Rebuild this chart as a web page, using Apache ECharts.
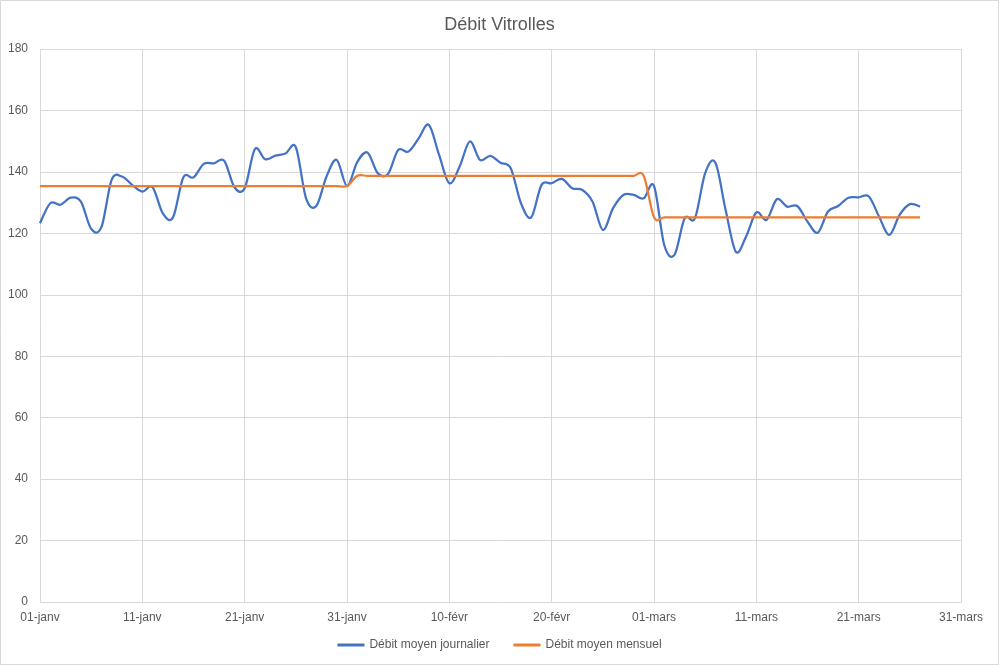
<!DOCTYPE html>
<html>
<head>
<meta charset="utf-8">
<title>Débit Vitrolles</title>
<script src="https://cdn.jsdelivr.net/npm/echarts@6/dist/echarts.min.js"></script>
<style>
  html, body { margin: 0; padding: 0; background: #fff; }
  #chart { width: 999px; height: 665px; }
</style>
</head>
<body>
<div id="chart"></div>
<script>
// mois (année bissextile), pour les libellés de l'axe
var moisNoms = ['janv', 'févr', 'mars'];
var moisJours = [31, 29, 31];
var tickLabels = ['01-janv', '11-janv', '21-janv', '31-janv', '10-févr', '20-févr',
                  '01-mars', '11-mars', '21-mars', '31-mars'];

// débit moyen journalier, du 01-janv au 27-mars
var debitJournalier = [
  123.3, 129.8, 129.3, 131.6, 130.3, 121.5, 122.0, 137.4, 138.5, 135.8,
  133.6, 135.0, 126.5, 125.2, 138.2, 138.2, 142.6, 142.8, 143.6, 135.0,
  134.7, 147.4, 144.1, 145.3, 146.0, 148.0, 131.4, 128.9, 138.5, 143.9,
  135.4, 143.2, 146.3, 139.6, 139.3, 147.1, 146.6, 150.9, 155.3, 145.5,
  136.3, 141.7, 149.9, 143.9, 145.2, 143.0, 141.2, 129.8, 125.2, 135.7,
  136.3, 137.7, 134.7, 134.1, 130.3, 121.1, 128.2, 132.5, 132.5, 131.4,
  135.4, 116.2, 113.0, 124.9, 124.9, 139.6, 143.0, 127.6, 114.0, 119.0,
  126.8, 124.4, 131.1, 128.7, 128.9, 123.8, 120.2, 127.1, 128.9, 131.6,
  131.7, 132.0, 125.4, 119.5, 126.0, 129.5, 128.7
];

// débit moyen mensuel
var moyenneJanv = 135.4;
var moyenneFevr = 138.7;
var moyenneMars = 125.2;
var joursSaisis = [31, 29, 27];

// construction des catégories (une par jour)
var categories = [];
for (var m = 0; m < moisNoms.length; m++) {
  for (var j = 1; j <= moisJours[m]; j++) {
    categories.push((j < 10 ? '0' + j : '' + j) + '-' + moisNoms[m]);
  }
}

var debitMensuel = [];
var moyennes = [moyenneJanv, moyenneFevr, moyenneMars];
for (var k = 0; k < moyennes.length; k++) {
  for (var n = 0; n < joursSaisis[k]; n++) {
    debitMensuel.push(moyennes[k]);
  }
}

var police = '"Liberation Sans", Arial, sans-serif';
var gris = '#595959';
var ligne = '#d9d9d9';
var bleu = '#4472C4';
var orange = '#ED7D31';

// courbe lissée façon Excel (Catmull-Rom), points passés par l'axe
function courbeLissee(values, api) {
  var pts = [];
  for (var i = 0; i < values.length; i++) {
    pts.push(api.coord([i, values[i]]));
  }
  var d = 'M' + pts[0][0] + ' ' + pts[0][1];
  for (var i = 0; i < pts.length - 1; i++) {
    var p0 = pts[i - 1] || pts[i];
    var p1 = pts[i];
    var p2 = pts[i + 1];
    var p3 = pts[i + 2] || pts[i + 1];
    var c1x = p1[0] + (p2[0] - p0[0]) / 6;
    var c1y = p1[1] + (p2[1] - p0[1]) / 6;
    var c2x = p2[0] - (p3[0] - p1[0]) / 6;
    var c2y = p2[1] - (p3[1] - p1[1]) / 6;
    d += ' C' + c1x + ' ' + c1y + ' ' + c2x + ' ' + c2y + ' ' + p2[0] + ' ' + p2[1];
  }
  return d;
}

function serieLissee(nom, values, couleur) {
  return {
    name: nom,
    type: 'custom',
    data: values.map(function (v, i) { return [i, v]; }),
    encode: { x: 0, y: 1 },
    itemStyle: { color: couleur },
    renderItem: function (params, api) {
      if (params.dataIndex !== 0) {
        return null;
      }
      return {
        type: 'path',
        silent: true,
        shape: { pathData: courbeLissee(values, api) },
        style: { fill: 'none', stroke: couleur, lineWidth: 2.25, lineJoin: 'round' }
      };
    }
  };
}

var myChart = echarts.init(document.getElementById('chart'));
var option = {
  animation: false,
  backgroundColor: '#fff',
  textStyle: { fontFamily: police },
  title: {
    text: 'Débit Vitrolles',
    left: 'center',
    top: 11,
    textStyle: { fontSize: 18, fontWeight: 'normal', color: gris, fontFamily: police }
  },
  graphic: [{
    type: 'rect',
    shape: { x: 0.5, y: 0.5, width: 998, height: 664 },
    style: { fill: 'none', stroke: ligne, lineWidth: 1 },
    silent: true
  }],
  legend: {
    bottom: 9,
    left: 'center',
    icon: 'rect',
    itemWidth: 27,
    itemHeight: 3,
    itemGap: 24,
    textStyle: { fontSize: 12, color: gris, fontFamily: police },
    data: ['Débit moyen journalier', 'Débit moyen mensuel']
  },
  grid: { left: 40, right: 38, top: 49, bottom: 63, containLabel: false },
  xAxis: {
    type: 'category',
    boundaryGap: false,
    data: categories,
    axisLine: { lineStyle: { color: ligne } },
    axisTick: { show: false },
    axisLabel: {
      interval: 9,
      color: gris,
      fontSize: 12,
      margin: 10,
      formatter: function (v, i) { return tickLabels[i / 10] || v; }
    },
    splitLine: { show: true, interval: 9, lineStyle: { color: ligne } }
  },
  yAxis: {
    type: 'value',
    min: 0,
    max: 180,
    interval: 20,
    axisLine: { show: false },
    axisTick: { show: false },
    axisLabel: { color: gris, fontSize: 12, margin: 12 },
    splitLine: { lineStyle: { color: ligne } }
  },
  series: [
    serieLissee('Débit moyen journalier', debitJournalier, bleu),
    serieLissee('Débit moyen mensuel', debitMensuel, orange)
  ]
};
myChart.setOption(option);
</script>
</body>
</html>
